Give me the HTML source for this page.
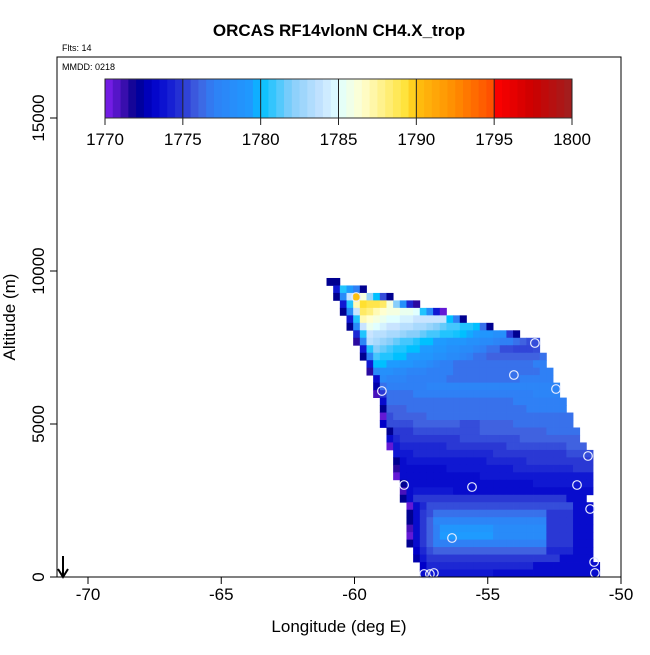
<!DOCTYPE html>
<html><head><meta charset="utf-8"><style>
html,body{margin:0;padding:0;background:#fff;}
svg text{font-family:"Liberation Sans",sans-serif;}
</style></head><body>
<svg id="chart" width="650" height="650" xmlns="http://www.w3.org/2000/svg">
<rect x="0" y="0" width="650" height="650" fill="#fff"/>
<text x="339" y="36" text-anchor="middle" font-size="17" font-weight="bold">ORCAS RF14vlonN CH4.X_trop</text>
<text x="62" y="51" font-size="9">Flts: 14</text>
<g id="heat"></g>
<g id="pts"></g>
<rect x="57" y="57" width="564" height="520" fill="none" stroke="#000" stroke-width="1"/>
<text x="62" y="70" font-size="9">MMDD: 0218</text>
<g id="cbar"></g>
<g id="xaxis"></g>
<g id="yaxis"></g>
<text x="339" y="632" text-anchor="middle" font-size="17">Longitude (deg E)</text>
<text transform="translate(15,317) rotate(-90)" text-anchor="middle" font-size="17">Altitude (m)</text>
<g>
<line x1="63" y1="556" x2="63" y2="576" stroke="#000" stroke-width="2"/>
<polyline points="58,569 63,577 68,569" fill="none" stroke="#000" stroke-width="2"/>
</g>
</svg>
<script>
const xTicks = [-70, -65, -60, -55, -50];
const yTicks = [0, 5000, 10000, 15000];
const cbarTicks = [1770, 1775, 1780, 1785, 1790, 1795, 1800];
const rowStartCol = [0,1,1,2,2,3,3,4,4,5,5,6,6,7,7,7,8,8,8,8,9,9,9,10,10,10,10,11,11,11,12,12,12,12,12,12,13,13,14,14];
const rowValues = [
[1772,1772],
[1774,1780.5,1779.5,1777,1772],
[1772,1778,1784,1790,1786,1782.5,1780,1775.5,1772],
[1774,1780.5,1787,1789.5,1789,1789,1788.5,1786,1782,1778.5,1774.5,1771.5],
[1772,1778,1784,1788.5,1788,1787,1786.5,1786,1786,1785.5,1785.5,1785,1780.5,1778,1774,1770.5],
[1774,1780.5,1787,1786.5,1786,1785.5,1785,1785,1784.5,1784.5,1784,1784,1784,1784,1784,1780,1777,1772],
[1772,1778,1784,1785.5,1785,1784.5,1784,1784,1783.5,1783.5,1783,1783,1782.5,1782,1781.5,1781,1781,1780.5,1780.5,1780,1776.5,1772],
[1774.5,1780.5,1784,1783.5,1783.5,1783,1783,1782.5,1782,1782,1781.5,1781,1781,1780.5,1780.5,1780.3,1780,1779.7,1779.5,1779,1779,1778.5,1778.5,1775,1772],
[1771.5,1777.5,1783.5,1783,1782.5,1782,1781.5,1781,1781,1780.5,1780,1780,1779.5,1779.5,1779,1779,1779,1778.5,1778.5,1778,1778,1777.5,1777,1777,1776.5,1776,1775.5,1775.5],
[1774,1780.5,1782,1781.5,1781,1780.5,1780.5,1780,1780,1779.5,1779.5,1779,1779,1778.5,1778.5,1778,1778,1777.5,1777,1776.5,1776.5,1775.5,1775.5,1775.3,1775.3,1775.3,1775.5],
[1772,1777.5,1781,1780.5,1780.5,1780,1780,1779.5,1779.5,1779,1779,1778.5,1778.5,1778,1778,1777.5,1777,1776.5,1776.5,1776,1776,1776,1776,1776,1776,1776,1776,1776.5],
[1774,1780,1780,1779.5,1779.5,1779,1779,1778.5,1778.5,1778,1777.5,1777,1777,1776.5,1776.5,1776.5,1776.5,1776.5,1776.5,1776.5,1776.5,1776.5,1776.5,1776.5,1776.5,1777,1777],
[1771.5,1778,1778.5,1778.5,1778,1778,1777.5,1777.5,1777.5,1777,1777,1777,1777,1776.5,1776.5,1776.5,1776.5,1776.5,1776.5,1776.5,1776.5,1776.5,1776.5,1776.5,1776.5,1776.5,1777,1777],
[1773.5,1778,1777.5,1777.5,1777.5,1777,1777,1777,1777,1777,1777,1776.5,1776.5,1776.5,1776.5,1776.5,1776.5,1776.5,1776.5,1776.5,1776.5,1776.5,1777,1777,1777,1777,1777],
[1772.5,1776.5,1777,1777,1777,1777,1777,1777,1777.5,1777.5,1777.5,1777.5,1777.5,1777.5,1777.5,1777.5,1777.5,1777.5,1777.5,1777.5,1777.5,1777.5,1777.5,1777.5,1777.5,1777.5,1777.5,1777.5],
[1771,1775,1776.5,1776.5,1776.5,1776.5,1777,1777,1777,1777,1777,1777,1777,1777,1777,1777,1777,1777,1777,1777,1777,1777,1777,1777,1777.5,1777.5,1777.5,1777.5],
[1773.5,1776.5,1776.5,1776.5,1776.5,1776.5,1776.5,1776.5,1776.5,1776.5,1776.5,1776.5,1776.5,1776.5,1776.5,1776.5,1776.5,1776.5,1776.5,1776.5,1777,1777,1777,1777,1777,1777,1777,1777],
[1772,1776,1776,1776,1776.5,1776.5,1776.5,1776.5,1776.5,1776.5,1776.5,1776.5,1776.5,1776.5,1776.5,1776.5,1776.5,1776.5,1776.5,1776.5,1776.5,1776.5,1777,1777,1777,1777,1777,1777],
[1770.5,1775.5,1776,1776,1776,1776,1776,1776.5,1776.5,1776.5,1776.5,1776.5,1776.5,1776.5,1776.5,1776.5,1776.5,1776.5,1776.5,1776.5,1776.5,1776.5,1776.5,1776.5,1776.5,1776.5,1776.5,1776.5,1776.5],
[1773,1775.5,1775.5,1775.5,1775.5,1776,1776,1776,1776,1776,1776,1776,1775.5,1775.5,1775.5,1776,1776,1776,1776,1776,1776.5,1776.5,1776.5,1776.5,1776.5,1776.5,1776.5,1776.5,1776.5],
[1772,1775,1775,1775,1775.5,1775.5,1775.5,1775.5,1775.5,1775.5,1775.5,1775.5,1775.5,1775.5,1776,1776,1776,1776,1776,1776,1776,1776,1776,1776,1776.5,1776.5,1776.5,1776.5,1776.5],
[1773.5,1774.5,1775,1775,1775,1775,1775,1775,1775,1775,1775,1775.5,1775.5,1775.5,1775.5,1775.5,1775.5,1775.5,1775.5,1775.5,1776,1776,1776,1776,1776,1776,1776,1776,1776],
[1770.5,1774,1774.5,1774.5,1774.5,1774.5,1774.5,1774.5,1774.5,1775,1775,1775,1775,1775,1775,1775,1775,1775,1775.5,1775.5,1775.5,1775.5,1775.5,1775.5,1775.5,1775.5,1775.5,1776,1776,1776],
[1774,1774,1774,1774.5,1774.5,1774.5,1774.5,1774.5,1774.5,1774.5,1774.5,1774.5,1774.5,1774.5,1774.5,1775,1775,1775,1775,1775,1775,1775,1775,1775,1775,1775,1775.5,1775.5,1775.5,1775.5],
[1772,1773.5,1774,1774,1774,1774,1774,1774,1774,1774,1774,1774,1774,1774,1774.5,1774.5,1774.5,1774.5,1774.5,1774.5,1775,1775,1775,1775,1775,1775,1775,1775,1775,1775],
[1771.5,1773.5,1773.5,1773.5,1773.5,1773.5,1773.5,1773.5,1774,1774,1774,1774,1774,1774,1774,1774,1774,1774,1774.5,1774.5,1774.5,1774.5,1774.5,1774.5,1774.5,1774.5,1774.5,1775,1775,1775],
[1770.5,1773.5,1773.5,1773.5,1773.5,1773.5,1773.5,1773.5,1773.5,1773.5,1773.5,1773.5,1773.5,1774,1774,1774,1774,1774,1774,1774,1774,1774,1774,1774,1774,1774,1774,1774,1774,1774],
[1772,1773.5,1773.5,1773.5,1773.5,1773.5,1773.5,1773.5,1773.5,1773.5,1773.5,1773.5,1773.5,1773.5,1773.5,1773.5,1773.5,1773.5,1773.5,1773.5,1774,1774,1774,1774,1774,1774,1774,1774,1774],
[1771,1773.5,1774,1774,1774,1774,1774,1774,1773.5,1773.5,1773.5,1773.5,1773.5,1773.5,1773.5,1773.5,1773.5,1773.5,1773.5,1773.5,1773.5,1773.5,1773.5,1773.5,1773.5,1773.5,1773.5,1773.5,1773.5],
[1772,1773.5,1775,1775,1775,1775,1775,1775,1775,1775,1775,1775,1775,1775,1775,1775,1775,1775,1775,1775,1775,1775,1775,1775,1775,1773.5,1773.5,1773.5],
[1770.5,1773.5,1774.5,1775.5,1775.5,1775.5,1775.5,1775.5,1775.5,1775.5,1775.5,1775.5,1775.5,1775.5,1775.5,1775.5,1775.5,1775.5,1775.5,1775.5,1775.5,1775.5,1775.5,1775.5,1775.5,1773.5,1773.5,1773.5],
[1772,1773.5,1775,1775.5,1776.5,1776.5,1776.5,1776.5,1776.5,1776.5,1776.5,1776.5,1776.5,1776.5,1776.5,1776.5,1776.5,1776.5,1776.5,1776.5,1776.5,1775,1775,1775,1775,1773.5,1773.5,1773.5],
[1772,1773.5,1775,1776,1777.5,1777.5,1777.5,1777.5,1777.5,1777.5,1777.5,1777.5,1777.5,1777.5,1777.5,1777.5,1777.5,1777.5,1777.5,1777.5,1777.5,1775,1775,1775,1775,1773.5,1773.5,1773.5],
[1771,1773.5,1775,1776,1777,1779,1779,1779,1779,1779,1779,1779,1779,1778,1778,1778,1778,1778,1778,1778,1778,1775,1775,1775,1775,1773.5,1773.5,1773.5],
[1770.5,1773.5,1775,1776,1777,1779.5,1779.5,1779.5,1779.5,1779.5,1779.5,1779.5,1779.5,1778,1778,1778,1778,1778,1778,1778,1778,1775,1775,1775,1775,1773.5,1773.5,1773.5],
[1772,1773.5,1775,1776,1777,1777,1777,1777,1777,1777,1777,1777,1777,1777,1777,1777,1777,1777,1777,1777,1777,1775,1775,1775,1775,1773.5,1773.5,1773.5],
[1773,1774.5,1775.5,1776,1776,1776,1776,1776,1776,1776,1776,1776,1776,1776,1776,1776,1776,1776,1776,1776,1774.5,1774.5,1774.5,1774.5,1773.5,1773.5,1773.5],
[1772.5,1774,1775,1775,1775,1775,1775,1775,1775,1775,1775,1775,1775,1775,1775,1775,1775,1775,1775,1775,1775,1775,1773.5,1773.5,1773.5,1773.5,1773.5],
[1773,1774.5,1774.5,1774.5,1774.5,1774.5,1774.5,1774.5,1774.5,1774.5,1774.5,1774.5,1774.5,1774.5,1774.5,1774.5,1774.5,1773.5,1773.5,1773.5,1773.5,1773.5,1773.5,1773.5,1773.5,1773.5,1773.5],
[1773.5,1774,1774,1774,1774,1774,1774,1774,1774,1774,1774,1773.5,1773.5,1773.5,1773.5,1773.5,1773.5,1773.5,1773.5,1773.5,1773.5,1773.5,1773.5,1773.5,1773.5,1773.5,1773.5]
];
const pointLon = [-59.94,-53.23,-54.02,-52.44,-58.97,-51.24,-58.14,-55.59,-51.65,-51.16,-56.34,-51.01,-50.98,-57.39,-57.17,-57.02];
const pointAlt = [9150,7647,6601,6144,6078,3954,3007,2941,3007,2222,1275,490,131,98,98,131];

const NS='http://www.w3.org/2000/svg';
const X0=88, XS=26.65, Y0=577, YS=0.0306;
function xs(lon){return X0+(lon+70)*XS;}
function ys(a){return Y0-a*YS;}
const LON0=-61.05, DLON=0.25, DALT=244.3;
const stopV=[1770,1771.5,1772,1773,1774,1775,1776,1777,1779.5,1780,1782,1784,1785,1786.5,1789.5,1790,1792.5,1794.8,1795,1797.5,1800];
const stopC=['#8020f0','#2a0aa0','#000090','#0000c8','#1018d2','#2a38d4','#4062e0','#2f80f5','#1e9bff','#00c0ff','#87cefa','#c8e4ff','#e0ffff','#ffffd0','#ffe030','#ffc010','#ff8c00','#ff5000','#ff0000','#cc0000','#a02020'];
function hex(c){return [1,3,5].map(i=>parseInt(c.substr(i,2),16));}
function col(v){
  if(v<=stopV[0])return stopC[0];
  for(let i=1;i<stopV.length;i++){
    if(v<=stopV[i]){const t=(v-stopV[i-1])/(stopV[i]-stopV[i-1]);const a=hex(stopC[i-1]),b=hex(stopC[i]);
      return 'rgb('+a.map((x,k)=>Math.round(x+(b[k]-x)*t)).join(',')+')';}
  }
  return stopC[stopC.length-1];
}
function mk(tag,attrs,parent){const e=document.createElementNS(NS,tag);for(const k in attrs)e.setAttribute(k,attrs[k]);parent.appendChild(e);return e;}

const heat=document.getElementById('heat');
const nRows=rowValues.length;
rowValues.forEach((row,r)=>{
  const altBot=(nRows-1-r)*DALT, altTop=altBot+DALT;
  row.forEach((v,j)=>{
    const c=rowStartCol[r]+j;
    const l=LON0+c*DLON;
    const x1=xs(l), x2=xs(l+DLON);
    const e=mk('rect',{x:x1.toFixed(2),y:ys(altTop).toFixed(2),width:(x2-x1+0.4).toFixed(2),height:(ys(altBot)-ys(altTop)+0.4).toFixed(2),fill:col(v)},heat);
    
    
  });
});
const pts=document.getElementById('pts');
pointLon.forEach((lo,i)=>{
  const e=mk('circle',{cx:xs(lo).toFixed(1),cy:ys(pointAlt[i]).toFixed(1),r:4.3,fill:'none',stroke:'#e8ecff','stroke-width':1.2},pts);
  
  
});
const cb=document.getElementById('cbar');
const CB0=105, CB1=572, CBY=79, CBH=39;
function cx(v){return CB0+(v-1770)/30*(CB1-CB0);}
for(let v=1770;v<1800;v+=0.5){
  const e=mk('rect',{x:cx(v).toFixed(2),y:CBY,width:(cx(v+0.5)-cx(v)+0.5).toFixed(2),height:CBH,fill:col(v+0.25)},cb);
  
  
}
mk('rect',{x:CB0,y:CBY,width:CB1-CB0,height:CBH,fill:'none',stroke:'#333','stroke-width':1},cb);
cbarTicks.forEach(t=>{
  const x=cx(t);
  mk('line',{x1:x,y1:CBY,x2:x,y2:CBY+CBH+7,stroke:'#222','stroke-width':1},cb);
  const e=mk('text',{x:x,y:145,'text-anchor':'middle','font-size':17},cb);
  e.textContent=t;
  
  
});
const xa=document.getElementById('xaxis');
xTicks.forEach(t=>{
  const x=xs(t);
  mk('line',{x1:x,y1:577,x2:x,y2:584,stroke:'#000'},xa);
  const e=mk('text',{x:x,y:600,'text-anchor':'middle','font-size':17},xa);
  e.textContent=t;
  
  
});
const ya=document.getElementById('yaxis');
yTicks.forEach(t=>{
  const y=ys(t);
  mk('line',{x1:50,y1:y,x2:57,y2:y,stroke:'#000'},ya);
  const e=mk('text',{transform:'translate(44,'+y+') rotate(-90)','text-anchor':'middle','font-size':17},ya);
  e.textContent=t;
  
  
});
</script>
</body></html>
